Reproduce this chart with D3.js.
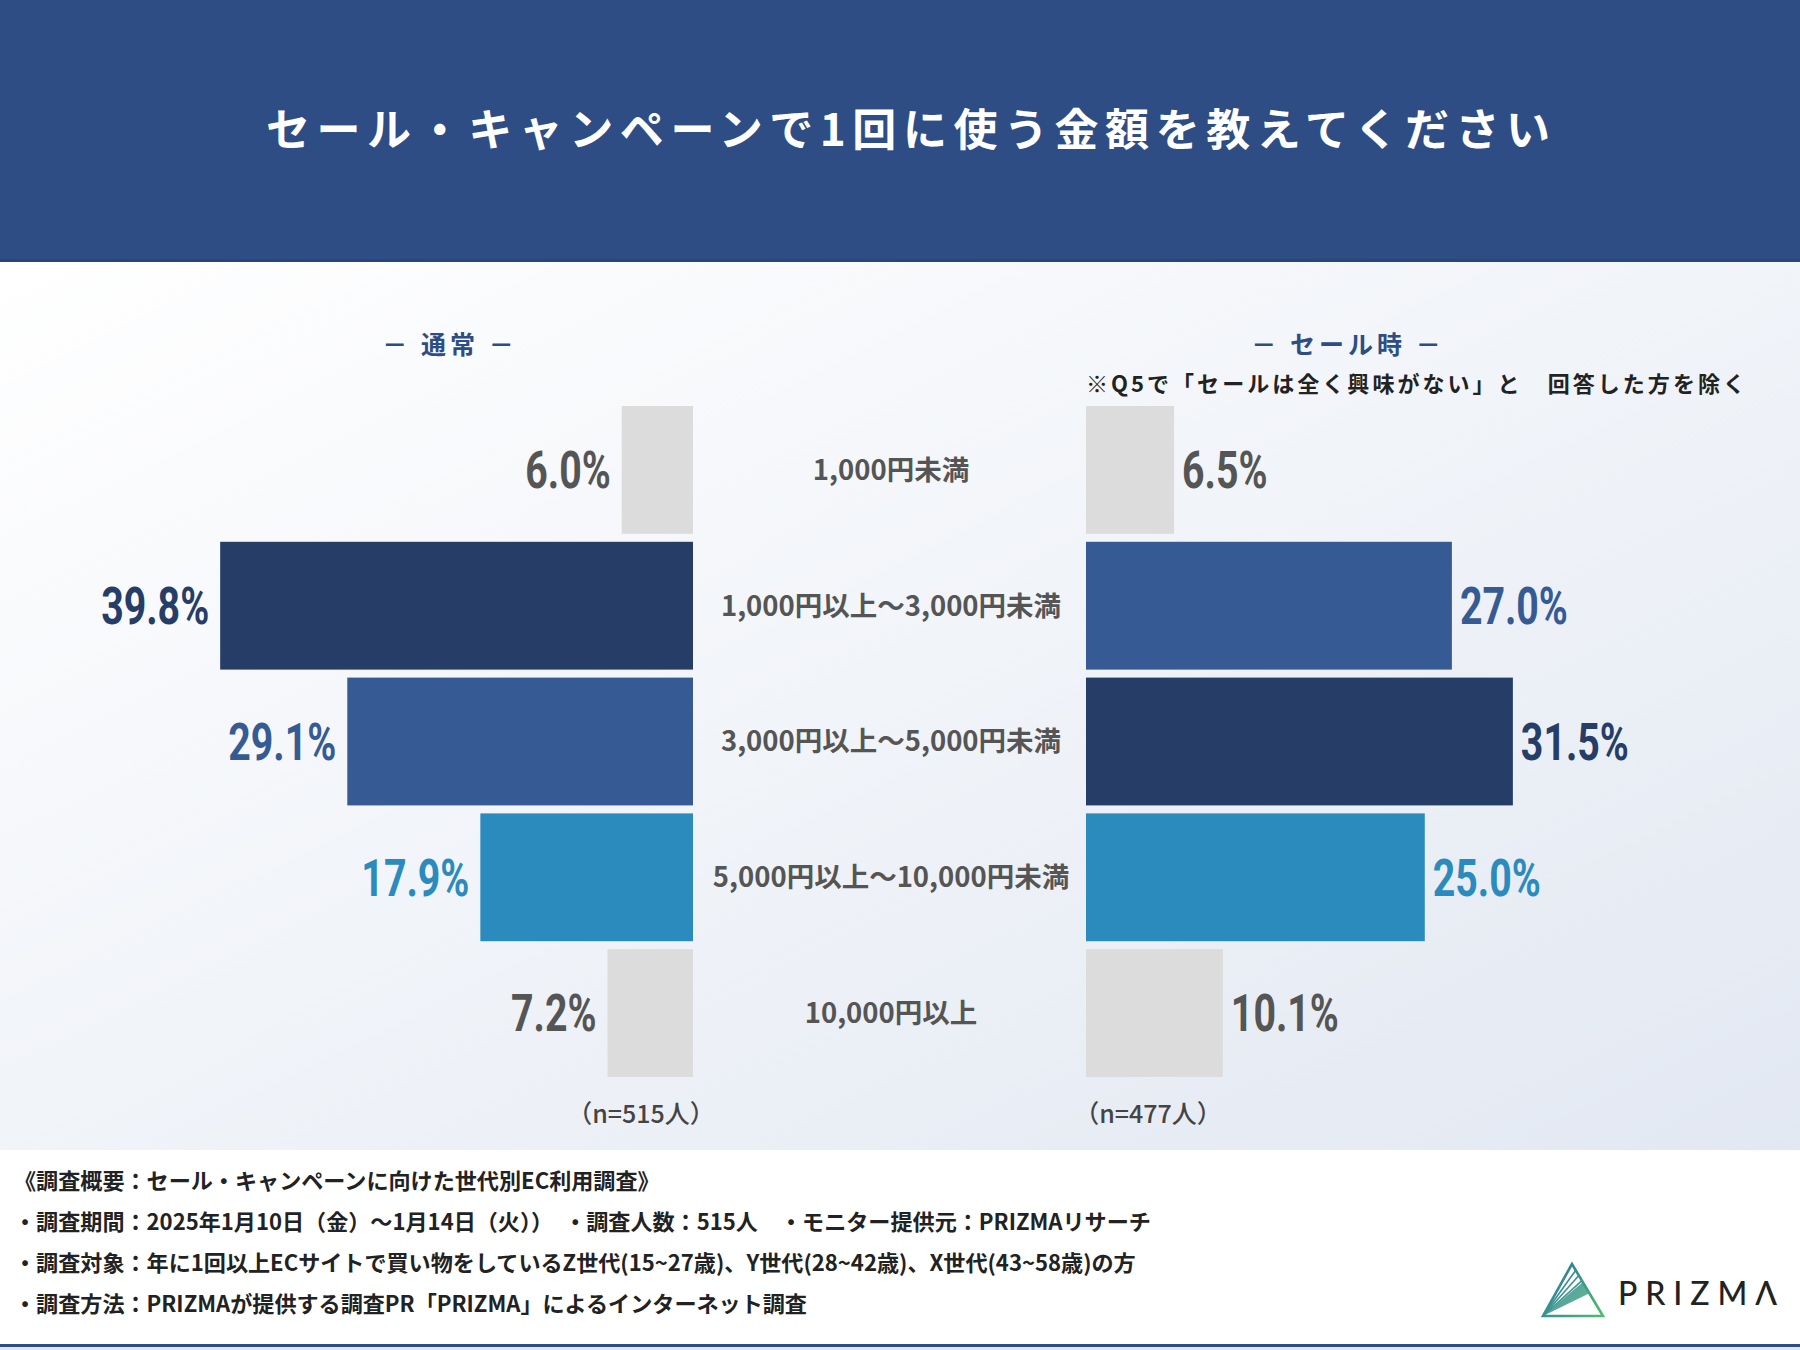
<!DOCTYPE html>
<html>
<head>
<meta charset="utf-8">
<script src="https://cdn.jsdelivr.net/npm/d3@7"></script>
<style>
body { margin: 0; background: #fff; }
svg { display: block; }
</style>
</head>
<body>
<svg></svg>
<script>
// data
const categories = ["1,000円未満", "1,000円以上～3,000円未満", "3,000円以上～5,000円未満", "5,000円以上～10,000円未満", "10,000円以上"]
const normalValues = [6.0, 39.8, 29.1, 17.9, 7.2]
const saleValues = [6.5, 27.0, 31.5, 25.0, 10.1]
const panelTitles = ["－ 通常 －", "－ セール時 －"]
const sampleLabels = ["（n=515人）", "（n=477人）"]
const footerLines = [
	"《調査概要：セール・キャンペーンに向けた世代別EC利用調査》",
	"・調査期間：2025年1月10日（金）～1月14日（火））　・調査人数：515人　・モニター提供元：PRIZMAリサーチ",
	"・調査対象：年に1回以上ECサイトで買い物をしているZ世代(15~27歳)、Y世代(28~42歳)、X世代(43~58歳)の方",
	"・調査方法：PRIZMAが提供する調査PR「PRIZMA」によるインターネット調査"
]

const W = 1800, H = 1350
const JP = "'Noto Sans CJK JP', 'Noto Sans', sans-serif"
const NUM = "Roboto, 'Liberation Sans', sans-serif"

const svg = d3.select("svg")
	.attr("width", W)
	.attr("height", H)

const defs = svg.append("defs")
const bg = defs.append("linearGradient")
	.attr("id", "bg")
	.attr("x1", 0).attr("y1", 0).attr("x2", 1).attr("y2", 1)
bg.append("stop").attr("offset", "0%").attr("stop-color", "#ffffff")
bg.append("stop").attr("offset", "100%").attr("stop-color", "#e2e8f2")

const logoGrad = defs.append("linearGradient")
	.attr("id", "logo")
	.attr("gradientUnits", "userSpaceOnUse")
	.attr("x1", 1542).attr("y1", 1263).attr("x2", 1603).attr("y2", 1317)
logoGrad.append("stop").attr("offset", "0%").attr("stop-color", "#2470a8")
logoGrad.append("stop").attr("offset", "100%").attr("stop-color", "#4fbd6c")

// backgrounds
svg.append("rect").attr("x", 0).attr("y", 262).attr("width", W).attr("height", 888).attr("fill", "url(#bg)")
svg.append("rect").attr("x", 0).attr("y", 0).attr("width", W).attr("height", 262).attr("fill", "#2e4d85")
svg.append("rect").attr("x", 0).attr("y", 259).attr("width", W).attr("height", 3).attr("fill", "#29467a")
svg.append("rect").attr("x", 0).attr("y", 1150).attr("width", W).attr("height", 200).attr("fill", "#ffffff")
svg.append("rect").attr("x", 0).attr("y", 1344).attr("width", W).attr("height", 3).attr("fill", "#2e4d85")
svg.append("rect").attr("x", 0).attr("y", 1347).attr("width", W).attr("height", 3).attr("fill", "#dde6f2")

// title
svg.append("text")
	.attr("x", 266)
	.attr("y", 130)
	.attr("dy", "0.36em")
	.attr("textLength", 1284)
	.attr("lengthAdjust", "spacing")
	.style("font-family", JP)
	.style("font-weight", 700)
	.style("font-size", "44px")
	.attr("fill", "#ffffff")
	.text("セール・キャンペーンで1回に使う金額を教えてください")

// scales
const y = d3.scaleBand()
	.domain(categories)
	.range([402, 1081])
	.paddingInner(0.0588)
	.paddingOuter(0.0294)

const xLeft = d3.scaleLinear().domain([0, 40]).range([0, 475.2])
const xRight = d3.scaleLinear().domain([0, 35]).range([0, 474.3])

const leftEdge = 693
const rightEdge = 1086

const barColors = ["#253d67", "#365b94", "#2c8bbd"]
const labelColors = ["#253d67", "#365b94", "#2c8bbd"]

const rankOf = function (values) {
	const sorted = values.slice().sort((a, b) => b - a)
	return values.map(v => sorted.indexOf(v))
}

const drawPanel = function (values, side) {
	const ranks = rankOf(values)
	const xs = side === "left" ? xLeft : xRight
	const rows = values.map((v, i) => ({ cat: categories[i], value: v, rank: ranks[i] }))

	const g = svg.append("g").attr("class", "panel-" + side)

	g.selectAll("rect.bar")
		.data(rows)
		.enter()
		.append("rect")
		.attr("class", "bar")
		.attr("x", d => side === "left" ? leftEdge - xs(d.value) : rightEdge)
		.attr("y", d => y(d.cat))
		.attr("width", d => xs(d.value))
		.attr("height", y.bandwidth())
		.attr("fill", d => d.rank < 3 ? barColors[d.rank] : "#dcdcdc")

	const labels = g.selectAll("g.val")
		.data(rows)
		.enter()
		.append("g")
		.attr("class", "val")
		.attr("transform", d => {
			const x = side === "left" ? leftEdge - xs(d.value) - 11 : rightEdge + xs(d.value) + 8
			const yy = y(d.cat) + y.bandwidth() / 2
			return `translate(${x},${yy}) scale(0.77,1)`
		})

	labels.append("text")
		.attr("text-anchor", side === "left" ? "end" : "start")
		.attr("dy", "0.36em")
		.style("font-family", NUM)
		.style("font-weight", 700)
		.style("font-size", "51px")
		.attr("fill", d => d.rank < 3 ? labelColors[d.rank] : "#555555")
		.text(d => d.value.toFixed(1) + "%")
}

drawPanel(normalValues, "left")
drawPanel(saleValues, "right")

// category labels in the middle
svg.selectAll("text.cat")
	.data(categories)
	.enter()
	.append("text")
	.attr("class", "cat")
	.attr("x", 891)
	.attr("y", d => y(d) + y.bandwidth() / 2)
	.attr("dy", "0.36em")
	.attr("text-anchor", "middle")
	.style("font-family", JP)
	.style("font-weight", 700)
	.style("font-size", "27.5px")
	.attr("fill", "#555555")
	.text(d => d)

// panel headings
svg.selectAll("text.head")
	.data(panelTitles)
	.enter()
	.append("text")
	.attr("class", "head")
	.attr("x", (d, i) => i === 0 ? 450 : 1348)
	.attr("y", 345)
	.attr("dy", "0.36em")
	.attr("text-anchor", "middle")
	.style("font-family", JP)
	.style("font-weight", 700)
	.style("font-size", "25px")
	.style("letter-spacing", "4px")
	.attr("fill", "#2e4d85")
	.text(d => d)

svg.append("text")
	.attr("x", 1086)
	.attr("y", 384)
	.attr("dy", "0.36em")
	.attr("textLength", 659)
	.attr("lengthAdjust", "spacing")
	.style("font-family", JP)
	.style("font-weight", 700)
	.style("font-size", "22px")
	.attr("fill", "#222222")
	.text("※Q5で「セールは全く興味がない」と　回答した方を除く")

// sample sizes
svg.selectAll("text.n")
	.data(sampleLabels)
	.enter()
	.append("text")
	.attr("class", "n")
	.attr("x", (d, i) => i === 0 ? 641 : 1148)
	.attr("y", 1114)
	.attr("dy", "0.36em")
	.attr("text-anchor", "middle")
	.style("font-family", JP)
	.style("font-weight", 500)
	.style("font-size", "25px")
	.attr("fill", "#444444")
	.text(d => d)

// footer notes
svg.selectAll("text.foot")
	.data(footerLines)
	.enter()
	.append("text")
	.attr("class", "foot")
	.attr("x", 14)
	.attr("y", (d, i) => 1181 + i * 41)
	.attr("dy", "0.36em")
	.style("font-family", JP)
	.style("font-weight", 700)
	.style("font-size", "22.1px")
	.attr("fill", "#222222")
	.text(d => d)

// logo
const logo = svg.append("g").attr("class", "logo")
logo.append("path")
	.attr("d", "M1572,1264 L1543,1316 L1603,1316 Z")
	.attr("fill", "none")
	.attr("stroke", "url(#logo)")
	.attr("stroke-width", 2.6)
	.attr("stroke-linejoin", "miter")
logo.append("path")
	.attr("d", "M1543,1316 L1583,1282 L1590,1293 Z")
	.attr("fill", "url(#logo)")
	.attr("opacity", 0.85)
;[0.12, 0.22, 0.32].forEach(t => {
	const px = 1572 + (1603 - 1572) * t
	const py = 1264 + (1316 - 1264) * t
	logo.append("line")
		.attr("x1", 1543).attr("y1", 1316)
		.attr("x2", px).attr("y2", py)
		.attr("stroke", "url(#logo)")
		.attr("stroke-width", 1.6)
})
logo.append("text")
	.attr("x", 1618)
	.attr("y", 1305)
	.attr("textLength", 159)
	.attr("lengthAdjust", "spacing")
	.style("font-family", "Lato, 'Noto Sans', sans-serif")
	.style("font-weight", 500)
	.style("font-size", "32px")
	.attr("fill", "#222222")
	.text("PRIZMΛ")
</script>
</body>
</html>
